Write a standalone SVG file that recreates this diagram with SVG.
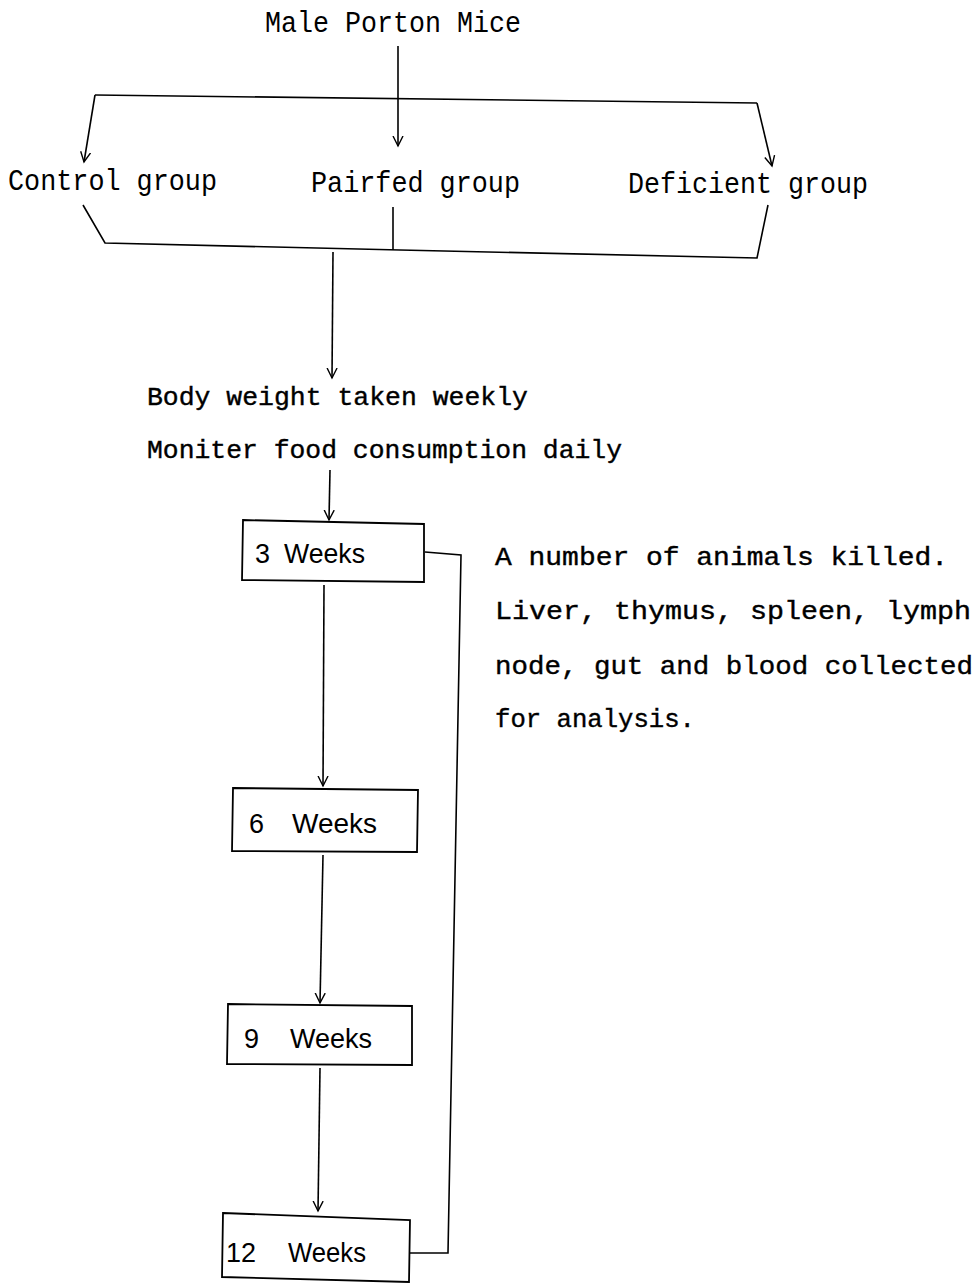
<svg xmlns="http://www.w3.org/2000/svg" width="976" height="1284" viewBox="0 0 976 1284">
<style>
.ln{fill:none;stroke:#000;stroke-width:1.6}
.bx{fill:#fff;stroke:#000;stroke-width:1.8}
.cond{font-family:"Liberation Mono",monospace;font-size:29px;fill:#000}
.mono{font-family:"Liberation Mono",monospace;font-size:26px;fill:#000;stroke:#000;stroke-width:0.4}
.box{font-family:"Liberation Sans",sans-serif;font-size:27px;fill:#000}
</style>
<defs>
<marker id="ar" viewBox="0 0 12 12" refX="10" refY="6" markerWidth="12" markerHeight="12" markerUnits="userSpaceOnUse" orient="auto">
<path d="M0,1 L10,6 L0,11" fill="none" stroke="#000" stroke-width="1.4"/>
</marker>
</defs>
<rect width="976" height="1284" fill="#fff"/>
<g id="connectors">
<path class="ln" d="M398,46 L398,146" marker-end="url(#ar)"/>
<path class="ln" d="M95,95 L757,103"/>
<path class="ln" d="M95,95 L84,162" marker-end="url(#ar)"/>
<path class="ln" d="M757,103 L772,166" marker-end="url(#ar)"/>
<path class="ln" d="M83,205 L105,243 L400,250 L757,258 L768,205"/>
<path class="ln" d="M393,207 L393,250"/>
<path class="ln" d="M333,252 L332,378" marker-end="url(#ar)"/>
<path class="ln" d="M330,470 L329,520" marker-end="url(#ar)"/>
<path class="ln" d="M425,552 L461,555 L448,1253 L409,1253"/>
<path class="ln" d="M324,585 L323,786" marker-end="url(#ar)"/>
<path class="ln" d="M323,855 L320,1003" marker-end="url(#ar)"/>
<path class="ln" d="M320,1068 L318,1211" marker-end="url(#ar)"/>
</g>
<g id="title"><text class="cond" x="265" y="32" textLength="256" lengthAdjust="spacingAndGlyphs">Male Porton Mice</text></g>
<g id="control"><text class="cond" x="8" y="190" textLength="209" lengthAdjust="spacingAndGlyphs">Control group</text></g>
<g id="pairfed"><text class="cond" x="311" y="192" textLength="209" lengthAdjust="spacingAndGlyphs">Pairfed group</text></g>
<g id="deficient"><text class="cond" x="628" y="193" textLength="240" lengthAdjust="spacingAndGlyphs">Deficient group</text></g>
<g id="monitor">
<text class="mono" x="147" y="405" textLength="381" lengthAdjust="spacingAndGlyphs">Body weight taken weekly</text>
<text class="mono" x="147" y="458" textLength="475" lengthAdjust="spacingAndGlyphs">Moniter food consumption daily</text>
</g>
<g id="w3">
<path class="bx" d="M243,520 L424,524 L424,582 L242,580 Z"/>
<text class="box" y="563"><tspan x="255">3</tspan><tspan x="284" textLength="81" lengthAdjust="spacingAndGlyphs">Weeks</tspan></text>
</g>
<g id="w6">
<path class="bx" d="M233,788 L418,790 L417,852 L232,851 Z"/>
<text class="box" y="833"><tspan x="249">6</tspan><tspan x="292" textLength="85" lengthAdjust="spacingAndGlyphs">Weeks</tspan></text>
</g>
<g id="w9">
<path class="bx" d="M228,1004 L412,1006 L412,1065 L227,1064 Z"/>
<text class="box" y="1048"><tspan x="244">9</tspan><tspan x="290" textLength="82" lengthAdjust="spacingAndGlyphs">Weeks</tspan></text>
</g>
<g id="w12">
<path class="bx" d="M223,1213 L410,1220 L409,1282 L222,1277 Z"/>
<text class="box" y="1262"><tspan x="226">12</tspan><tspan x="288" textLength="78" lengthAdjust="spacingAndGlyphs">Weeks</tspan></text>
</g>
<g id="note">
<text class="mono" x="495" y="565" textLength="453" lengthAdjust="spacingAndGlyphs">A number of animals killed.</text>
<text class="mono" x="495" y="619" textLength="476" lengthAdjust="spacingAndGlyphs">Liver, thymus, spleen, lymph</text>
<text class="mono" x="495" y="674" textLength="478" lengthAdjust="spacingAndGlyphs">node, gut and blood collected</text>
<text class="mono" x="495" y="727" textLength="200" lengthAdjust="spacingAndGlyphs">for analysis.</text>
</g>
</svg>
